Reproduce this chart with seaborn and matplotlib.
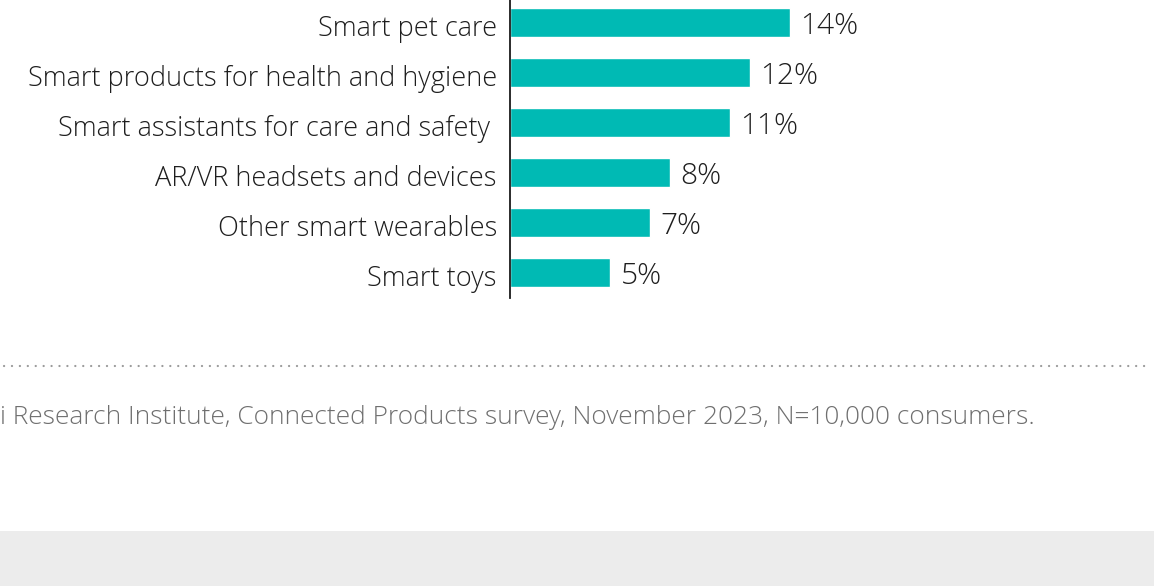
import matplotlib
matplotlib.use("Agg")
import matplotlib.pyplot as plt
import seaborn as sns
import pandas as pd
from matplotlib.lines import Line2D
from matplotlib.patches import Rectangle

categories = [
    "Smart pet care",
    "Smart products for health and hygiene",
    "Smart assistants for care and safety ",
    "AR/VR headsets and devices",
    "Other smart wearables",
    "Smart toys",
]
values = [14, 12, 11, 8, 7, 5]
value_labels = ["14%", "12%", "11%", "8%", "7%", "5%"]
source_text = "i Research Institute, Connected Products survey, November 2023, N=10,000 consumers."

sns.set_theme(style="white")
plt.rcParams["font.family"] = ["Open Sans", "DejaVu Sans"]
plt.rcParams["lines.scale_dashes"] = False

W, H = 1154, 586
fig = plt.figure(figsize=(W / 100, H / 100), dpi=100)
fig.patch.set_facecolor("white")

ax_left, ax_top, ax_bottom, ax_w = 510, 0, 298, 600
ax = fig.add_axes([ax_left / W, 1 - ax_bottom / H, ax_w / W, (ax_bottom - ax_top) / H])

df = pd.DataFrame({"category": categories, "value": values})
sns.barplot(data=df, x="value", y="category", orient="h", color="#00BAB4",
            saturation=1, width=0.58, ax=ax)

ax.set_xlim(0, 30)
ax.set_ylim(5.51, -0.45)
ax.set_xlabel("")
ax.set_ylabel("")
ax.set_xticks([])
ax.set_yticks(range(len(categories)))
ax.set_yticklabels([])
for s in ["top", "right", "bottom"]:
    ax.spines[s].set_visible(False)
ax.spines["left"].set_color("#1a1a1a")
ax.spines["left"].set_linewidth(1.3)
ax.tick_params(axis="y", length=0)
ax.set_facecolor("none")

for i, (cat, v, lab) in enumerate(zip(categories, values, value_labels)):
    ax.annotate(cat, xy=(0, i), xytext=(-9.5, -4.5), textcoords="offset points",
                ha="right", va="center", fontsize=19.5, color="#1e1e1e",
                fontweight="light")
    ax.annotate(lab, xy=(v, i), xytext=(7.5, -2.5), textcoords="offset points",
                ha="left", va="center", fontsize=21.5, color="#1e1e1e",
                fontweight="light")

# dotted separator
fig.add_artist(Line2D([4 / W, 1150 / W], [1 - 366 / H, 1 - 366 / H],
                      transform=fig.transFigure, color="#9a9a9a", linewidth=1.6,
                      linestyle=(0, (0.1, 5.6)), dash_capstyle="round"))

fig.text(1035 / W, 1 - 417 / H, source_text, ha="right", va="center",
         fontsize=18.9, color="#6f6f6f", fontweight="light")

fig.patches.append(Rectangle((0, 0), 1, (H - 531) / H, transform=fig.transFigure,
                             facecolor="#ececec", edgecolor="none", zorder=0))

fig.savefig("out.png", dpi=100)
